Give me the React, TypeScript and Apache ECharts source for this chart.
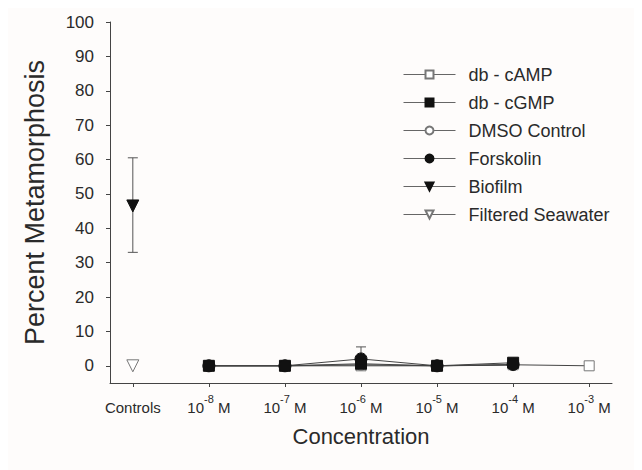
import React, { useEffect, useRef } from "react";
import * as echarts from "echarts";

// x positions: 0 = Controls, 1..6 = 10^-8 .. 10^-3 M
const categoryLabels = ["Controls", "10-8", "10-7", "10-6", "10-5", "10-4", "10-3"];
const concX = [1, 2, 3, 4, 5, 6];

const cAMP = [0, 0, 0, 0, 0.3, 0];
const cGMP = [0, 0, 0.6, 0, 0.9];
const dmso = [0, 0, 0.3, 0, 0.2];
const forskolin = [0, 0, 2, 0, 0.4];
const forskolinErrHigh = [null, null, 5.5, null, null];

const biofilm = [46.5];
const biofilmLow = [33];
const biofilmHigh = [60.5];
const seawater = [0];

const yTicks = [0, 10, 20, 30, 40, 50, 60, 70, 80, 90, 100];
const xTicks = [0, 1, 2, 3, 4, 5, 6];

const FONT = "Liberation Sans, Arial, sans-serif";
const INK = "#2a2a2a";

function pairs(xs: number[], ys: number[]) {
  return ys.map((y, i) => [xs[i], y]);
}

export default function App() {
  const ref = useRef<HTMLDivElement>(null);
  useEffect(() => {
    if (!ref.current) return;
    const chart = echarts.init(ref.current, undefined, { renderer: "svg" });

    const errData: number[][] = [];
    biofilm.forEach((_, i) => errData.push([0, biofilmLow[i], biofilmHigh[i]]));
    forskolin.forEach((v, i) => {
      const h = forskolinErrHigh[i];
      if (h != null) errData.push([concX[i], v, h]);
    });

    const lineBase = (name: string, data: any, symbol: string, filled: boolean, size: number, z: number) => ({
      name,
      type: "line",
      data,
      symbol,
      symbolSize: size,
      z,
      showAllSymbol: true,
      lineStyle: { color: "#444", width: 1 },
      itemStyle: filled
        ? { color: "#111", borderColor: "#111", borderWidth: 1 }
        : { color: "#ffffff", borderColor: "#777", borderWidth: 1 },
      emphasis: { disabled: true },
    });

    const option: any = {
      animation: false,
      backgroundColor: "#fefcfb",
      textStyle: { fontFamily: FONT },
      grid: { left: 110, right: 30, top: 22, bottom: 87, containLabel: false },
      legend: {
        orient: "vertical",
        left: 398,
        top: 60,
        itemWidth: 52,
        itemHeight: 10,
        itemGap: 9,
        lineStyle: { width: 1, color: "#666" },
        textStyle: { fontSize: 18, lineHeight: 19, color: INK, fontFamily: FONT, padding: [0, 0, 0, 8] },
        data: ["db - cAMP", "db - cGMP", "DMSO Control", "Forskolin", "Biofilm", "Filtered Seawater"],
      },
      xAxis: {
        type: "value",
        min: -0.3,
        max: 6.3,
        splitLine: { show: false },
        axisLine: { show: true, onZero: false, lineStyle: { color: "#444", width: 1 } },
        axisTick: { show: true, length: 4, customValues: xTicks, lineStyle: { color: "#444" } },
        axisLabel: {
          customValues: xTicks,
          margin: 10,
          color: INK,
          fontSize: 15,
          formatter: (v: number) => {
            const s = categoryLabels[Math.round(v)];
            if (!s) return "";
            if (s === "Controls") return "{b|Controls}";
            const exp = s.slice(2);
            return "{b|10}{sup|" + exp + "}{b| M}";
          },
          rich: {
            b: { fontSize: 15, color: INK, fontFamily: FONT, lineHeight: 22, verticalAlign: "bottom" },
            sup: { fontSize: 11, color: INK, fontFamily: FONT, lineHeight: 22, verticalAlign: "top" },
          },
        },
        name: "Concentration",
        nameLocation: "middle",
        nameGap: 42,
        nameTextStyle: { fontSize: 22, color: INK, fontFamily: FONT },
      },
      yAxis: {
        type: "value",
        min: -5,
        max: 100,
        splitLine: { show: false },
        axisLine: { show: true, onZero: false, lineStyle: { color: "#444", width: 1 } },
        axisTick: { show: true, length: 4, customValues: yTicks, lineStyle: { color: "#444" } },
        axisLabel: { customValues: yTicks, color: INK, fontSize: 17, margin: 16 },
        name: "Percent Metamorphosis",
        nameLocation: "middle",
        nameGap: 62,
        nameTextStyle: { fontSize: 27, color: INK, fontFamily: FONT },
      },
      series: [
        {
          type: "custom",
          name: "err",
          z: 1,
          silent: true,
          data: errData,
          renderItem: (params: any, api: any) => {
            const x = api.value(0);
            const lo = api.coord([x, api.value(1)]);
            const hi = api.coord([x, api.value(2)]);
            const w = 5;
            const st = { stroke: "#555", lineWidth: 1 };
            return {
              type: "group",
              children: [
                { type: "line", shape: { x1: lo[0], y1: lo[1], x2: hi[0], y2: hi[1] }, style: st },
                { type: "line", shape: { x1: hi[0] - w, y1: hi[1], x2: hi[0] + w, y2: hi[1] }, style: st },
                { type: "line", shape: { x1: lo[0] - w, y1: lo[1], x2: lo[0] + w, y2: lo[1] }, style: st },
              ],
            };
          },
        },
        lineBase("db - cAMP", pairs(concX, cAMP), "rect", false, 10, 2),
        lineBase("db - cGMP", pairs(concX, cGMP), "rect", true, 11, 4),
        lineBase("DMSO Control", pairs(concX, dmso), "circle", false, 11, 3),
        lineBase("Forskolin", pairs(concX, forskolin), "circle", true, 12, 5),
        lineBase("Biofilm", biofilm.map((v) => [0, v]), "triangle", true, 12, 5),
        lineBase("Filtered Seawater", seawater.map((v) => [0, v]), "triangle", false, 12, 5),
      ],
    };
    // flip triangles to point down
    option.series.forEach((s: any) => {
      if (s.symbol === "triangle") s.symbolRotate = 180;
    });
    chart.setOption(option);
    return () => chart.dispose();
  }, []);
  return <div ref={ref} style={{ width: 642, height: 470, marginLeft: -8, marginTop: -8 }} />;
}
